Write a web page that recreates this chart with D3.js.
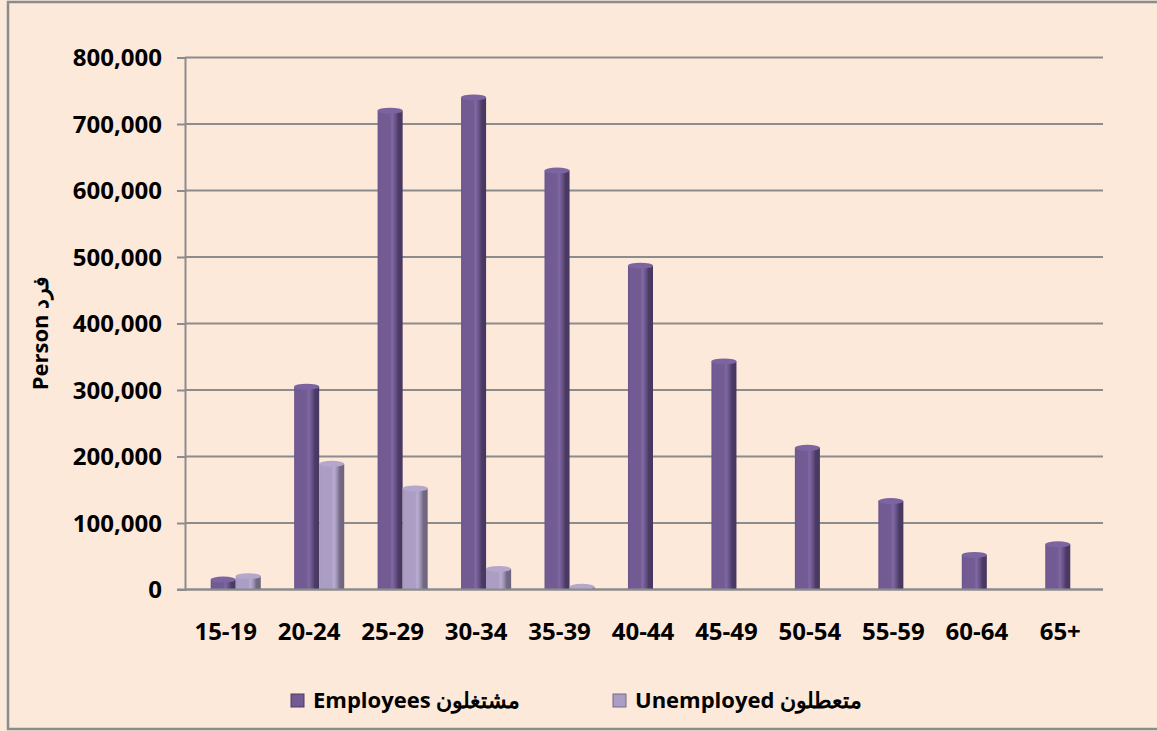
<!DOCTYPE html>
<html>
<head>
<meta charset="utf-8">
<script src="https://cdn.jsdelivr.net/npm/d3@7"></script>
<style>
  html, body { margin: 0; padding: 0; background: #fde9da; }
  svg { display: block; }
</style>
</head>
<body>
<svg id="chart" width="1157" height="731"></svg>
<script>
const categories = ["15-19","20-24","25-29","30-34","35-39","40-44","45-49","50-54","55-59","60-64","65+"];
const employees  = [15000, 305000, 720000, 740000, 630000, 487000, 343000, 213000, 133000, 52000, 68000];
const unemployed = [20000, 189000, 152000, 31000, 4000, 0, 0, 0, 0, 0, 0];
const seriesNames = ["Employees مشتغلون", "Unemployed متعطلون"];
const yTicks = [0, 100000, 200000, 300000, 400000, 500000, 600000, 700000, 800000];
const yTitle = "Person فرد";

const svg = d3.select("#chart");
const plot = {left: 185, right: 1103, top: 57.5, bottom: 589.5};
const FONT = "'Open Sans', sans-serif";

svg.append("rect").attr("x", 8).attr("y", 2).attr("width", 1170).attr("height", 727)
  .attr("fill", "#fde9da").attr("stroke", "#8c8c8c").attr("stroke-width", 2.5);

const defs = svg.append("defs");
function cylGrad(id, stops) {
  const g = defs.append("linearGradient").attr("id", id).attr("x1", "0%").attr("x2", "100%").attr("y1", "0%").attr("y2", "0%");
  stops.forEach(s => g.append("stop").attr("offset", s[0]).attr("stop-color", s[1]));
}
cylGrad("gEmp", [["0%","#6b548b"],["8%","#725a92"],["50%","#735b93"],["58%","#806aa3"],["66%","#735b93"],["76%","#5e4a7b"],["82%","#4c3c65"],["100%","#463760"]]);
cylGrad("gUne", [["0%","#a596bf"],["8%","#ab9dc4"],["50%","#ab9dc4"],["58%","#b9add0"],["66%","#ab9dc4"],["76%","#8d82a0"],["82%","#736a83"],["100%","#6d657c"]]);
const colors = ["url(#gEmp)", "url(#gUne)"];
const capColors = ["#7b64a0", "#b4a7cb"];

const x = d3.scaleBand().domain(categories).range([plot.left, plot.right]).paddingInner(0.4).paddingOuter(0.2);
const xFull = d3.scaleBand().domain(categories).range([plot.left, plot.right]);
const xs = d3.scaleBand().domain(d3.range(2)).range([0, x.bandwidth()]);
const y = d3.scaleLinear().domain([0, 800000]).range([plot.bottom, plot.top]);
const depth = 9;

// gridlines
svg.append("g").attr("class", "grid")
  .selectAll("line").data(yTicks).join("line")
  .attr("x1", plot.left).attr("x2", plot.right)
  .attr("y1", d => y(d)).attr("y2", d => y(d))
  .attr("stroke", "#8c8c8c").attr("stroke-width", 2);

const yAxis = d3.axisLeft(y).tickValues(yTicks).tickSize(8).tickPadding(15).tickFormat(d3.format(","));
const gy = svg.append("g").attr("transform", `translate(${plot.left},0)`).call(yAxis);
gy.select(".domain").attr("stroke", "#8c8c8c").attr("stroke-width", 2);
gy.selectAll(".tick line").attr("stroke", "#8c8c8c").attr("stroke-width", 2);
gy.selectAll("text").attr("font-family", FONT).attr("font-weight", "bold")
  .attr("font-size", 24).attr("fill", "#000").attr("dy", "0.34em");

// bars
const data = [employees, unemployed];
categories.forEach((c, i) => {
  data.forEach((vals, s) => {
    const v = vals[i];
    if (v <= 0) return;
    const bx = x(c) + xs(s) + depth;
    const bw = xs.bandwidth();
    const top = y(v);
    const g = svg.append("g");
    g.append("rect").attr("x", bx).attr("y", top).attr("width", bw).attr("height", y(0) - top)
      .attr("fill", colors[s]);
    g.append("ellipse").attr("cx", bx + bw / 2).attr("cy", top).attr("rx", bw / 2).attr("ry", 3)
      .attr("fill", capColors[s]);
  });
});

// x axis baseline
svg.append("line").attr("x1", plot.left - 8).attr("x2", plot.right)
  .attr("y1", y(0)).attr("y2", y(0)).attr("stroke", "#8c8c8c").attr("stroke-width", 2);

// x labels
svg.append("g").selectAll("text").data(categories).join("text")
  .attr("x", d => xFull(d) + xFull.bandwidth() / 2 - 1)
  .attr("y", 640)
  .attr("text-anchor", "middle")
  .attr("font-family", FONT).attr("font-weight", "bold").attr("font-size", 24)
  .attr("fill", "#000").text(d => d);

// y title
svg.append("text").attr("transform", "translate(48,333) rotate(-90)")
  .attr("text-anchor", "middle")
  .attr("font-family", FONT).attr("font-weight", "bold").attr("font-size", 22)
  .attr("fill", "#000").text(yTitle);

// legend
const legendX = [291, 613];
seriesNames.forEach((n, s) => {
  const g = svg.append("g").attr("transform", `translate(${legendX[s]},0)`);
  g.append("rect").attr("x", 0).attr("y", 694).attr("width", 13).attr("height", 13)
    .attr("fill", s === 0 ? "#725a92" : "#ab9dc4").attr("stroke", s === 0 ? "#4c3c65" : "#736a83").attr("stroke-width", 1);
  g.append("text").attr("x", 22).attr("y", 708)
    .attr("font-family", FONT).attr("font-weight", "bold").attr("font-size", 22)
    .attr("fill", "#000").text(n);
});
</script>
</body>
</html>
